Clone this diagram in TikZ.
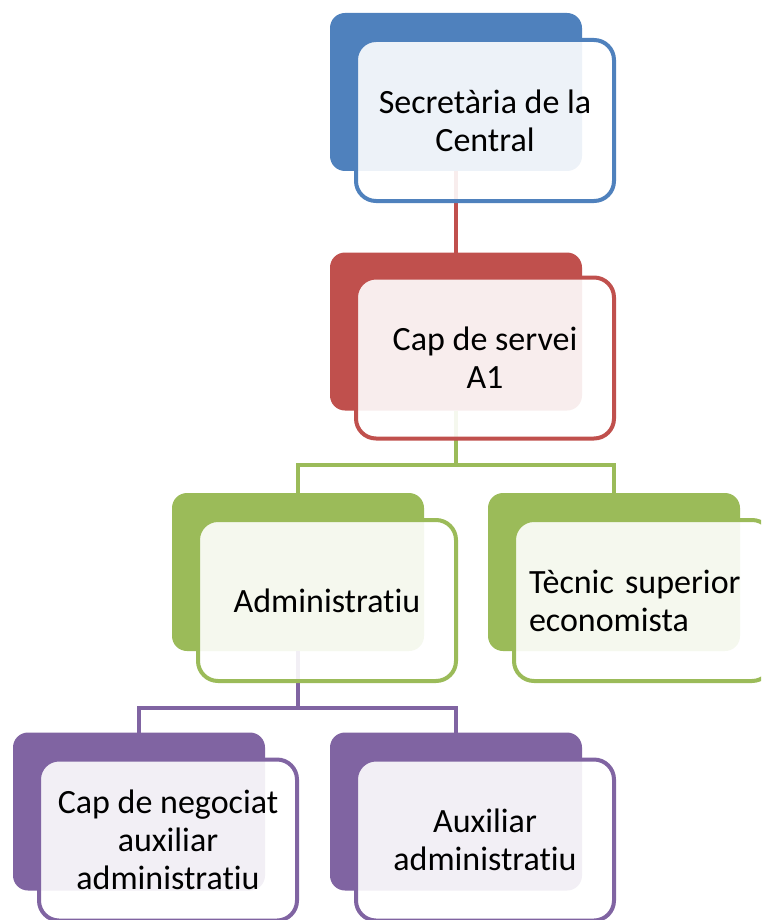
\documentclass[tikz,border=0pt]{standalone}
\usepackage{fontspec}
\setmainfont{Carlito}[Ligatures={NoCommon,NoContextual}]
\definecolor{cblue}{HTML}{4F81BD}
\definecolor{cred}{HTML}{C0504D}
\definecolor{cgreen}{HTML}{9BBB59}
\definecolor{cpurple}{HTML}{8064A2}
\begin{document}
\begin{tikzpicture}[x=1pt,y=-1pt,
  back/.style={fill=#1, draw=none, rounded corners=15pt, minimum width=252pt, minimum height=158pt, outer sep=0pt, inner sep=0pt},
  front/.style={fill=white, fill opacity=0.9, text opacity=1, draw=#1, line width=4pt, rounded corners=20pt, minimum width=258pt, minimum height=161pt, outer sep=0pt, align=center, font=\fontsize{34}{38}\selectfont},
  conn/.style={draw=#1, line width=4pt}]
\useasboundingbox (0,0) rectangle (761,920);
\clip (0,0) rectangle (761,920);
% back shapes
\node[back=cblue] (b1) at (456,92) {};
\node[back=cred] (b2) at (456,331.5) {};
\node[back=cgreen] (b3) at (298,572) {};
\node[back=cgreen] (b4) at (614,572) {};
\node[back=cpurple] (b5) at (139,811.5) {};
\node[back=cpurple] (b6) at (456,811.5) {};
% connectors
\coordinate (g) at (456,465);
\coordinate (p) at (298,708);
\draw[conn=cred] (b1.south) -- (b2.north);
\draw[conn=cgreen] (b2.south) -- (g);
\draw[conn=cgreen] (b3.north) |- (g) -| (b4.north);
\draw[conn=cpurple] (b3.south) -- (p);
\draw[conn=cpurple] (b5.north) |- (p) -| (b6.north);
% front shapes
\node[front=cblue] (f1) at (485,120.5) {Secretària de la\\Central};
\node[front=cred] (f2) at (485,358) {Cap de servei\\A1};
\node[front=cgreen] (f3) at (327,600.5) {Administratiu};
\node[front=cgreen, text width=228pt, inner xsep=15pt, align=left] (f4) at (643,600.5) {Tècnic superior\\economista};
\node[front=cpurple] (f5) at (168,840) {Cap de negociat\\auxiliar\\administratiu};
\node[front=cpurple] (f6) at (485,840) {Auxiliar\\administratiu};
\end{tikzpicture}
\end{document}
